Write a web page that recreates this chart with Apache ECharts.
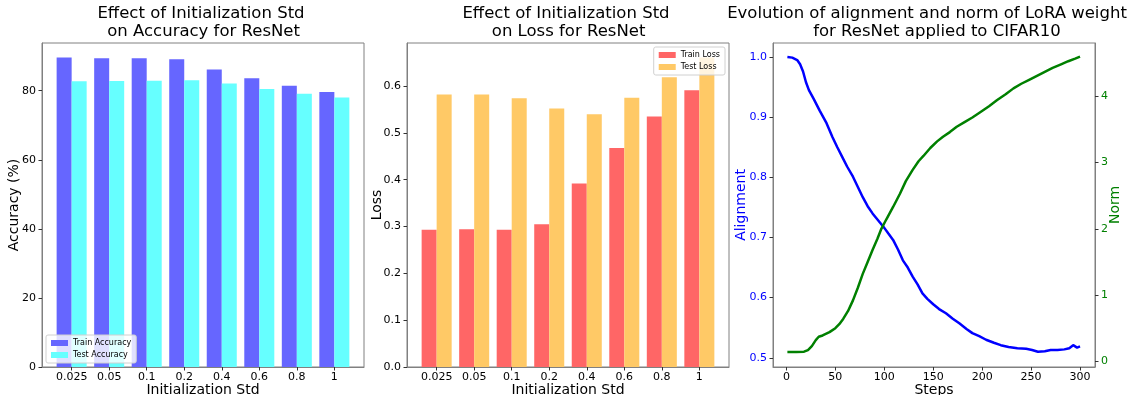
<!DOCTYPE html>
<html>
<head>
<meta charset="utf-8">
<script src="https://cdn.jsdelivr.net/npm/echarts@6/dist/echarts.min.js"></script>
<style>
  html, body { margin: 0; padding: 0; background: #fff; }
  #main { width: 1133px; height: 395px; }
</style>
</head>
<body>
<div id="main"></div>
<script>
// 初始化标准差 (x 轴类别)
const stdLabels = ['0.025', '0.05', '0.1', '0.2', '0.4', '0.6', '0.8', '1']
const trainAcc = [89.6, 89.4, 89.4, 89.1, 86.1, 83.6, 81.4, 79.6]
const testAcc = [82.7, 82.8, 82.9, 83.0, 82.1, 80.5, 79.1, 78.0]
const trainLoss = [0.293, 0.294, 0.293, 0.305, 0.392, 0.468, 0.535, 0.591]
const testLoss = [0.582, 0.582, 0.574, 0.552, 0.540, 0.575, 0.619, 0.661]

// alignment / norm 曲线 (step, value)
const alignSteps = [1, 6, 11, 14, 17, 20, 23, 28, 34, 41, 47, 52, 57, 62, 68, 73, 78, 83, 88, 93, 97, 100, 104, 109, 114, 119, 124, 129, 134, 139, 144, 150, 156, 163, 170, 177, 184, 190, 197, 204, 212, 219, 227, 236, 245, 251, 257, 264, 270, 277, 284, 289, 293, 297, 300]
const alignVals = [1.0, 0.999, 0.995, 0.988, 0.976, 0.958, 0.945, 0.930, 0.911, 0.890, 0.867, 0.850, 0.834, 0.818, 0.801, 0.784, 0.767, 0.752, 0.740, 0.730, 0.722, 0.716, 0.707, 0.696, 0.680, 0.662, 0.650, 0.635, 0.622, 0.607, 0.598, 0.589, 0.581, 0.574, 0.565, 0.557, 0.548, 0.541, 0.536, 0.530, 0.525, 0.521, 0.518, 0.516, 0.515, 0.513, 0.510, 0.511, 0.513, 0.513, 0.514, 0.516, 0.521, 0.517, 0.519]
const normSteps = [1, 10, 18, 22, 26, 30, 33, 37, 44, 50, 54, 58, 63, 68, 73, 78, 83, 88, 93, 97, 102, 109, 116, 122, 129, 135, 140, 147, 154, 160, 167, 174, 182, 190, 198, 207, 215, 224, 232, 240, 248, 256, 264, 272, 280, 288, 295, 300]
const normVals = [0.14, 0.14, 0.145, 0.17, 0.23, 0.32, 0.37, 0.39, 0.44, 0.50, 0.56, 0.64, 0.76, 0.92, 1.11, 1.32, 1.50, 1.68, 1.85, 2.00, 2.14, 2.33, 2.53, 2.72, 2.89, 3.02, 3.10, 3.22, 3.32, 3.39, 3.46, 3.54, 3.61, 3.68, 3.76, 3.85, 3.94, 4.03, 4.12, 4.19, 4.25, 4.31, 4.37, 4.43, 4.48, 4.53, 4.57, 4.60]

const accTicks = [0, 20, 40, 60, 80]
const lossTicks = [0, 0.1, 0.2, 0.3, 0.4, 0.5, 0.6]
const stepTicks = [0, 50, 100, 150, 200, 250, 300]
const alignTicks = [0.5, 0.6, 0.7, 0.8, 0.9, 1.0]
const normTicks = [0, 1, 2, 3, 4]

const FONT = 'DejaVu Sans'
const FRAME = '#808080'

let chart = echarts.init(document.getElementById('main'))

function pairs(xs, ys) {
  return ys.map((v, i) => [xs[i], v])
}

function tickCfg(values) {
  return { show: true, length: 3.5, inside: false, customValues: values, lineStyle: { color: '#333', width: 1 } }
}

let axisLineCfg = { show: true, onZero: false, lineStyle: { color: FRAME, width: 1 } }

// 柱状图的 x 轴: 数值轴, 刻度放在类别下标上
function stdAxis(gridIndex) {
  let idx = stdLabels.map((_, i) => i)
  return {
    type: 'value',
    gridIndex: gridIndex,
    min: -0.79,
    max: 7.79,
    position: 'bottom',
    name: 'Initialization Std',
    nameLocation: 'middle',
    nameGap: 16.5,
    nameMoveOverlap: false,
    nameTextStyle: { fontSize: 14, color: '#000', fontFamily: FONT },
    axisLine: axisLineCfg,
    splitLine: { show: false },
    axisTick: tickCfg(idx),
    axisLabel: {
      customValues: idx,
      formatter: (v) => stdLabels[Math.round(v)],
      fontSize: 11,
      color: '#000',
      fontFamily: FONT,
      margin: 5,
    },
  }
}

function valueAxis(gridIndex, min, max, ticks, opts) {
  return {
    type: 'value',
    gridIndex: gridIndex,
    min: min,
    max: max,
    position: opts.position || 'left',
    name: opts.name,
    nameLocation: 'middle',
    nameRotate: 90,
    nameGap: opts.nameGap,
    nameMoveOverlap: false,
    nameTextStyle: { fontSize: 14, color: opts.color || '#000', fontFamily: FONT },
    axisLine: axisLineCfg,
    splitLine: { show: false },
    axisTick: tickCfg(ticks),
    axisLabel: {
      customValues: ticks,
      formatter: opts.formatter,
      fontSize: 11,
      color: opts.color || '#000',
      fontFamily: FONT,
      margin: 6,
    },
  }
}

function grid(left) {
  return {
    left: left, top: 43, width: 322, height: 324,
    outerBoundsMode: 'none', containLabel: false,
    show: true, borderColor: FRAME, borderWidth: 1, backgroundColor: 'transparent',
  }
}

function legendCfg(names, pos) {
  return Object.assign({
    data: names,
    orient: 'vertical',
    icon: 'rect',
    itemWidth: 17,
    itemHeight: 6,
    itemGap: 4,
    padding: [4, 5],
    backgroundColor: 'rgba(255,255,255,0.8)',
    borderColor: '#d0d0d0',
    borderWidth: 1,
    borderRadius: 2,
    textStyle: { fontSize: 8, color: '#000', fontFamily: FONT },
  }, pos)
}

let titleStyle = { fontSize: 16.5, fontWeight: 'normal', color: '#000', fontFamily: FONT, lineHeight: 18 }

let option = {
  animation: false,
  textStyle: { fontFamily: FONT },
  title: [
    { text: 'Effect of Initialization Std\n on Accuracy for ResNet', left: 201, top: 5, textAlign: 'center', padding: 0, textStyle: titleStyle },
    { text: 'Effect of Initialization Std\n on Loss for ResNet', left: 566, top: 5, textAlign: 'center', padding: 0, textStyle: titleStyle },
    { text: 'Evolution of alignment and norm of LoRA weight', left: 927, top: 5, textAlign: 'center', padding: 0, textStyle: titleStyle },
    { text: 'for ResNet applied to CIFAR10', left: 937, top: 23, textAlign: 'center', padding: 0, textStyle: titleStyle },
  ],
  legend: [
    legendCfg(['Train Accuracy', 'Test Accuracy'], { left: 46, top: 335 }),
    legendCfg(['Train Loss', 'Test Loss'], { right: 408, top: 47 }),
  ],
  grid: [grid(42), grid(407), grid(773)],
  xAxis: [
    stdAxis(0),
    stdAxis(1),
    {
      type: 'value',
      gridIndex: 2,
      min: -13.7,
      max: 315.3,
      position: 'bottom',
      name: 'Steps',
      nameLocation: 'middle',
      nameGap: 16.5,
      nameMoveOverlap: false,
      nameTextStyle: { fontSize: 14, color: '#000', fontFamily: FONT },
      axisLine: axisLineCfg,
      splitLine: { show: false },
      axisTick: tickCfg(stepTicks),
      axisLabel: { customValues: stepTicks, fontSize: 11, color: '#000', fontFamily: FONT, margin: 5 },
    },
  ],
  yAxis: [
    valueAxis(0, 0, 93.8, accTicks, { name: 'Accuracy (%)', nameGap: 21 }),
    valueAxis(1, 0, 0.692, lossTicks, { name: 'Loss', nameGap: 22.5, formatter: (v) => v.toFixed(1) }),
    valueAxis(2, 0.4847, 1.0233, alignTicks, { name: 'Alignment', nameGap: 24.5, color: '#0000ff', formatter: (v) => v.toFixed(1) }),
    valueAxis(2, -0.086, 4.805, normTicks, { name: 'Norm', nameGap: 13, color: '#008000', position: 'right' }),
  ],
  series: [
    {
      name: 'Train Accuracy', type: 'bar', xAxisIndex: 0, yAxisIndex: 0,
      data: pairs(stdLabels.map((_, i) => i), trainAcc),
      barWidth: '40%', barGap: '0%',
      itemStyle: { color: '#6666ff' },
    },
    {
      name: 'Test Accuracy', type: 'bar', xAxisIndex: 0, yAxisIndex: 0,
      data: pairs(stdLabels.map((_, i) => i), testAcc),
      barWidth: '40%', barGap: '0%',
      itemStyle: { color: '#66ffff' },
    },
    {
      name: 'Train Loss', type: 'bar', xAxisIndex: 1, yAxisIndex: 1,
      data: pairs(stdLabels.map((_, i) => i), trainLoss),
      barWidth: '40%', barGap: '0%',
      itemStyle: { color: '#ff6666' },
    },
    {
      name: 'Test Loss', type: 'bar', xAxisIndex: 1, yAxisIndex: 1,
      data: pairs(stdLabels.map((_, i) => i), testLoss),
      barWidth: '40%', barGap: '0%',
      itemStyle: { color: '#ffc966' },
    },
    {
      name: 'Alignment', type: 'line', xAxisIndex: 2, yAxisIndex: 2,
      data: pairs(alignSteps, alignVals),
      showSymbol: false,
      lineStyle: { color: '#0000ff', width: 2.5 },
    },
    {
      name: 'Norm', type: 'line', xAxisIndex: 2, yAxisIndex: 3,
      data: pairs(normSteps, normVals),
      showSymbol: false,
      lineStyle: { color: '#008000', width: 2.5 },
    },
  ],
}
chart.setOption(option)
</script>
</body>
</html>
